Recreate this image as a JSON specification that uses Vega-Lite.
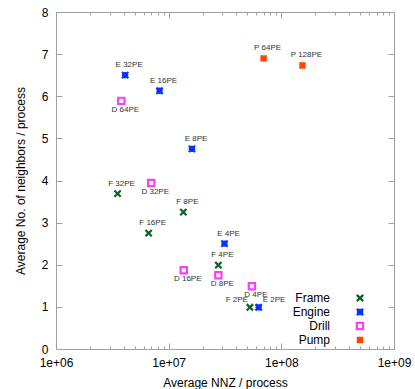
{
  "$schema": "https://vega.github.io/schema/vega-lite/v6.json",
  "width": 338,
  "height": 337,
  "autosize": {"type": "none"},
  "padding": {"left": 56, "top": 12, "right": 21, "bottom": 40},
  "background": "white",
  "config": {
    "font": "Liberation Sans",
    "view": {"stroke": "#a0a0a0", "strokeWidth": 1},
    "axis": {"domain": false, "grid": false, "tickColor": "#a0a0a0", "tickWidth": 1, "labelColor": "black", "titleColor": "black", "labelFontSize": 12, "titleFontSize": 12, "titleFontWeight": "normal", "labelFont": "Liberation Sans", "titleFont": "Liberation Sans"}
  },
  "data": {
    "values": [
      {"series": "Frame", "label": "F 32PE", "nnz": 3520000, "neighbors": 3.69, "pos": "above"},
      {"series": "Frame", "label": "F 16PE", "nnz": 6640000, "neighbors": 2.75, "pos": "above"},
      {"series": "Frame", "label": "F 8PE", "nnz": 13500000, "neighbors": 3.25, "pos": "above"},
      {"series": "Frame", "label": "F 4PE", "nnz": 27600000, "neighbors": 1.99, "pos": "above"},
      {"series": "Frame", "label": "F 2PE", "nnz": 52600000, "neighbors": 0.99, "pos": "left"},
      {"series": "Engine", "label": "E 32PE", "nnz": 4110000, "neighbors": 6.5, "pos": "above"},
      {"series": "Engine", "label": "E 16PE", "nnz": 8300000, "neighbors": 6.13, "pos": "above"},
      {"series": "Engine", "label": "E 8PE", "nnz": 16100000, "neighbors": 4.75, "pos": "above"},
      {"series": "Engine", "label": "E 4PE", "nnz": 31300000, "neighbors": 2.5, "pos": "above"},
      {"series": "Engine", "label": "E 2PE", "nnz": 62900000, "neighbors": 0.99, "pos": "right"},
      {"series": "Drill", "label": "D 64PE", "nnz": 3800000, "neighbors": 5.89, "pos": "below"},
      {"series": "Drill", "label": "D 32PE", "nnz": 7000000, "neighbors": 3.94, "pos": "below"},
      {"series": "Drill", "label": "D 16PE", "nnz": 13600000, "neighbors": 1.87, "pos": "below"},
      {"series": "Drill", "label": "D 8PE", "nnz": 27600000, "neighbors": 1.75, "pos": "below"},
      {"series": "Drill", "label": "D 4PE", "nnz": 54800000, "neighbors": 1.49, "pos": "below"},
      {"series": "Pump", "label": "P 64PE", "nnz": 69600000, "neighbors": 6.9, "pos": "above"},
      {"series": "Pump", "label": "P 128PE", "nnz": 154000000, "neighbors": 6.73, "pos": "above"}
    ]
  },
  "layer": [
    {
      "transform": [{"filter": "datum.pos == 'above'"}],
      "mark": {"type": "text", "dx": 4, "dy": -10, "fontSize": 8, "color": "#333333", "font": "Liberation Sans"},
      "encoding": {
        "x": {"field": "nnz", "type": "quantitative", "scale": {"type": "log", "domain": [1000000, 1000000000]},
          "axis": {"orient": "top", "labels": false, "title": null,
            "values": [1000000,2000000,3000000,4000000,5000000,6000000,7000000,8000000,9000000,10000000,20000000,30000000,40000000,50000000,60000000,70000000,80000000,90000000,100000000,200000000,300000000,400000000,500000000,600000000,700000000,800000000,900000000,1000000000],
            "tickSize": {"condition": {"test": "datum.value == 1000000 || datum.value == 10000000 || datum.value == 100000000 || datum.value == 1000000000", "value": -6}, "value": -3}}},
        "y": {"field": "neighbors", "type": "quantitative", "scale": {"domain": [0, 8]},
          "axis": {"orient": "right", "labels": false, "title": null, "values": [0,1,2,3,4,5,6,7,8], "tickSize": -6}},
        "text": {"field": "label", "type": "nominal"}
      }
    },
    {
      "transform": [{"filter": "datum.pos == 'below'"}],
      "mark": {"type": "text", "dx": 4, "dy": 9, "fontSize": 8, "color": "#333333", "font": "Liberation Sans"},
      "encoding": {
        "x": {"field": "nnz", "type": "quantitative", "axis": null},
        "y": {"field": "neighbors", "type": "quantitative", "axis": null},
        "text": {"field": "label", "type": "nominal"}
      }
    },
    {
      "transform": [{"filter": "datum.pos == 'left'"}],
      "mark": {"type": "text", "align": "right", "dx": -2, "dy": -7, "fontSize": 8, "color": "#333333", "font": "Liberation Sans"},
      "encoding": {
        "x": {"field": "nnz", "type": "quantitative", "axis": null},
        "y": {"field": "neighbors", "type": "quantitative", "axis": null},
        "text": {"field": "label", "type": "nominal"}
      }
    },
    {
      "transform": [{"filter": "datum.pos == 'right'"}],
      "mark": {"type": "text", "align": "left", "dx": 4, "dy": -7, "fontSize": 8, "color": "#333333", "font": "Liberation Sans"},
      "encoding": {
        "x": {"field": "nnz", "type": "quantitative", "axis": null},
        "y": {"field": "neighbors", "type": "quantitative", "axis": null},
        "text": {"field": "label", "type": "nominal"}
      }
    },
    {
      "mark": {"type": "point", "filled": false, "strokeWidth": 2.2, "size": 49, "opacity": 1},
      "encoding": {
        "x": {"field": "nnz", "type": "quantitative",
          "axis": {"orient": "bottom", "title": "Average NNZ / process", "labelOverlap": false, "labelFlush": false, "labelPadding": 14, "titlePadding": 6,
            "values": [1000000,2000000,3000000,4000000,5000000,6000000,7000000,8000000,9000000,10000000,20000000,30000000,40000000,50000000,60000000,70000000,80000000,90000000,100000000,200000000,300000000,400000000,500000000,600000000,700000000,800000000,900000000,1000000000],
            "labelExpr": "datum.value == 1000000 ? '1e+06' : datum.value == 10000000 ? '1e+07' : datum.value == 100000000 ? '1e+08' : datum.value == 1000000000 ? '1e+09' : ''",
            "tickSize": {"condition": {"test": "datum.value == 1000000 || datum.value == 10000000 || datum.value == 100000000 || datum.value == 1000000000", "value": -6}, "value": -3}}},
        "y": {"field": "neighbors", "type": "quantitative",
          "axis": {"orient": "left", "title": "Average No. of neighbors / process", "values": [0,1,2,3,4,5,6,7,8], "tickSize": -6, "labelPadding": 14, "titlePadding": 14}},
        "color": {"field": "series", "type": "nominal",
          "scale": {"domain": ["Frame", "Engine", "Drill", "Pump"], "range": ["#0b6323", "#0a32ff", "#f542f5", "#ff4500"]},
          "legend": {"title": null, "orient": "none", "legendX": 298, "legendY": 280, "labelAlign": "right", "labelOffset": -36, "labelFontSize": 12, "labelColor": "black", "labelFont": "Liberation Sans", "symbolStrokeWidth": 2.2, "symbolSize": 49, "rowPadding": -3, "padding": 0}},
        "fill": {"field": "series", "type": "nominal",
          "scale": {"domain": ["Frame", "Engine", "Drill", "Pump"], "range": ["transparent", "transparent", "transparent", "#ff4500"]},
          "legend": {"title": null, "orient": "none", "legendX": 298, "legendY": 280, "labelAlign": "right", "labelOffset": -36, "labelFontSize": 12, "labelColor": "black", "labelFont": "Liberation Sans", "symbolStrokeWidth": 2.2, "symbolSize": 49, "rowPadding": -3, "padding": 0}},
        "shape": {"field": "series", "type": "nominal",
          "scale": {"domain": ["Frame", "Engine", "Drill", "Pump"], "range": ["M-0.9,-0.9L0.9,0.9M-0.9,0.9L0.9,-0.9", "M-0.9,-0.9L0.9,0.9M-0.9,0.9L0.9,-0.9M-0.9,0L0.9,0M0,-0.9L0,0.9", "M-0.9,-0.9L0.9,-0.9L0.9,0.9L-0.9,0.9Z", "M-0.6,-0.6L0.6,-0.6L0.6,0.6L-0.6,0.6Z"]},
          "legend": {"title": null, "orient": "none", "legendX": 298, "legendY": 280, "labelAlign": "right", "labelOffset": -36, "labelFontSize": 12, "labelColor": "black", "labelFont": "Liberation Sans", "symbolStrokeWidth": 2.2, "symbolSize": 49, "rowPadding": -3, "padding": 0}}
      }
    }
  ],
  "resolve": {"axis": {"x": "independent", "y": "independent"}}
}
